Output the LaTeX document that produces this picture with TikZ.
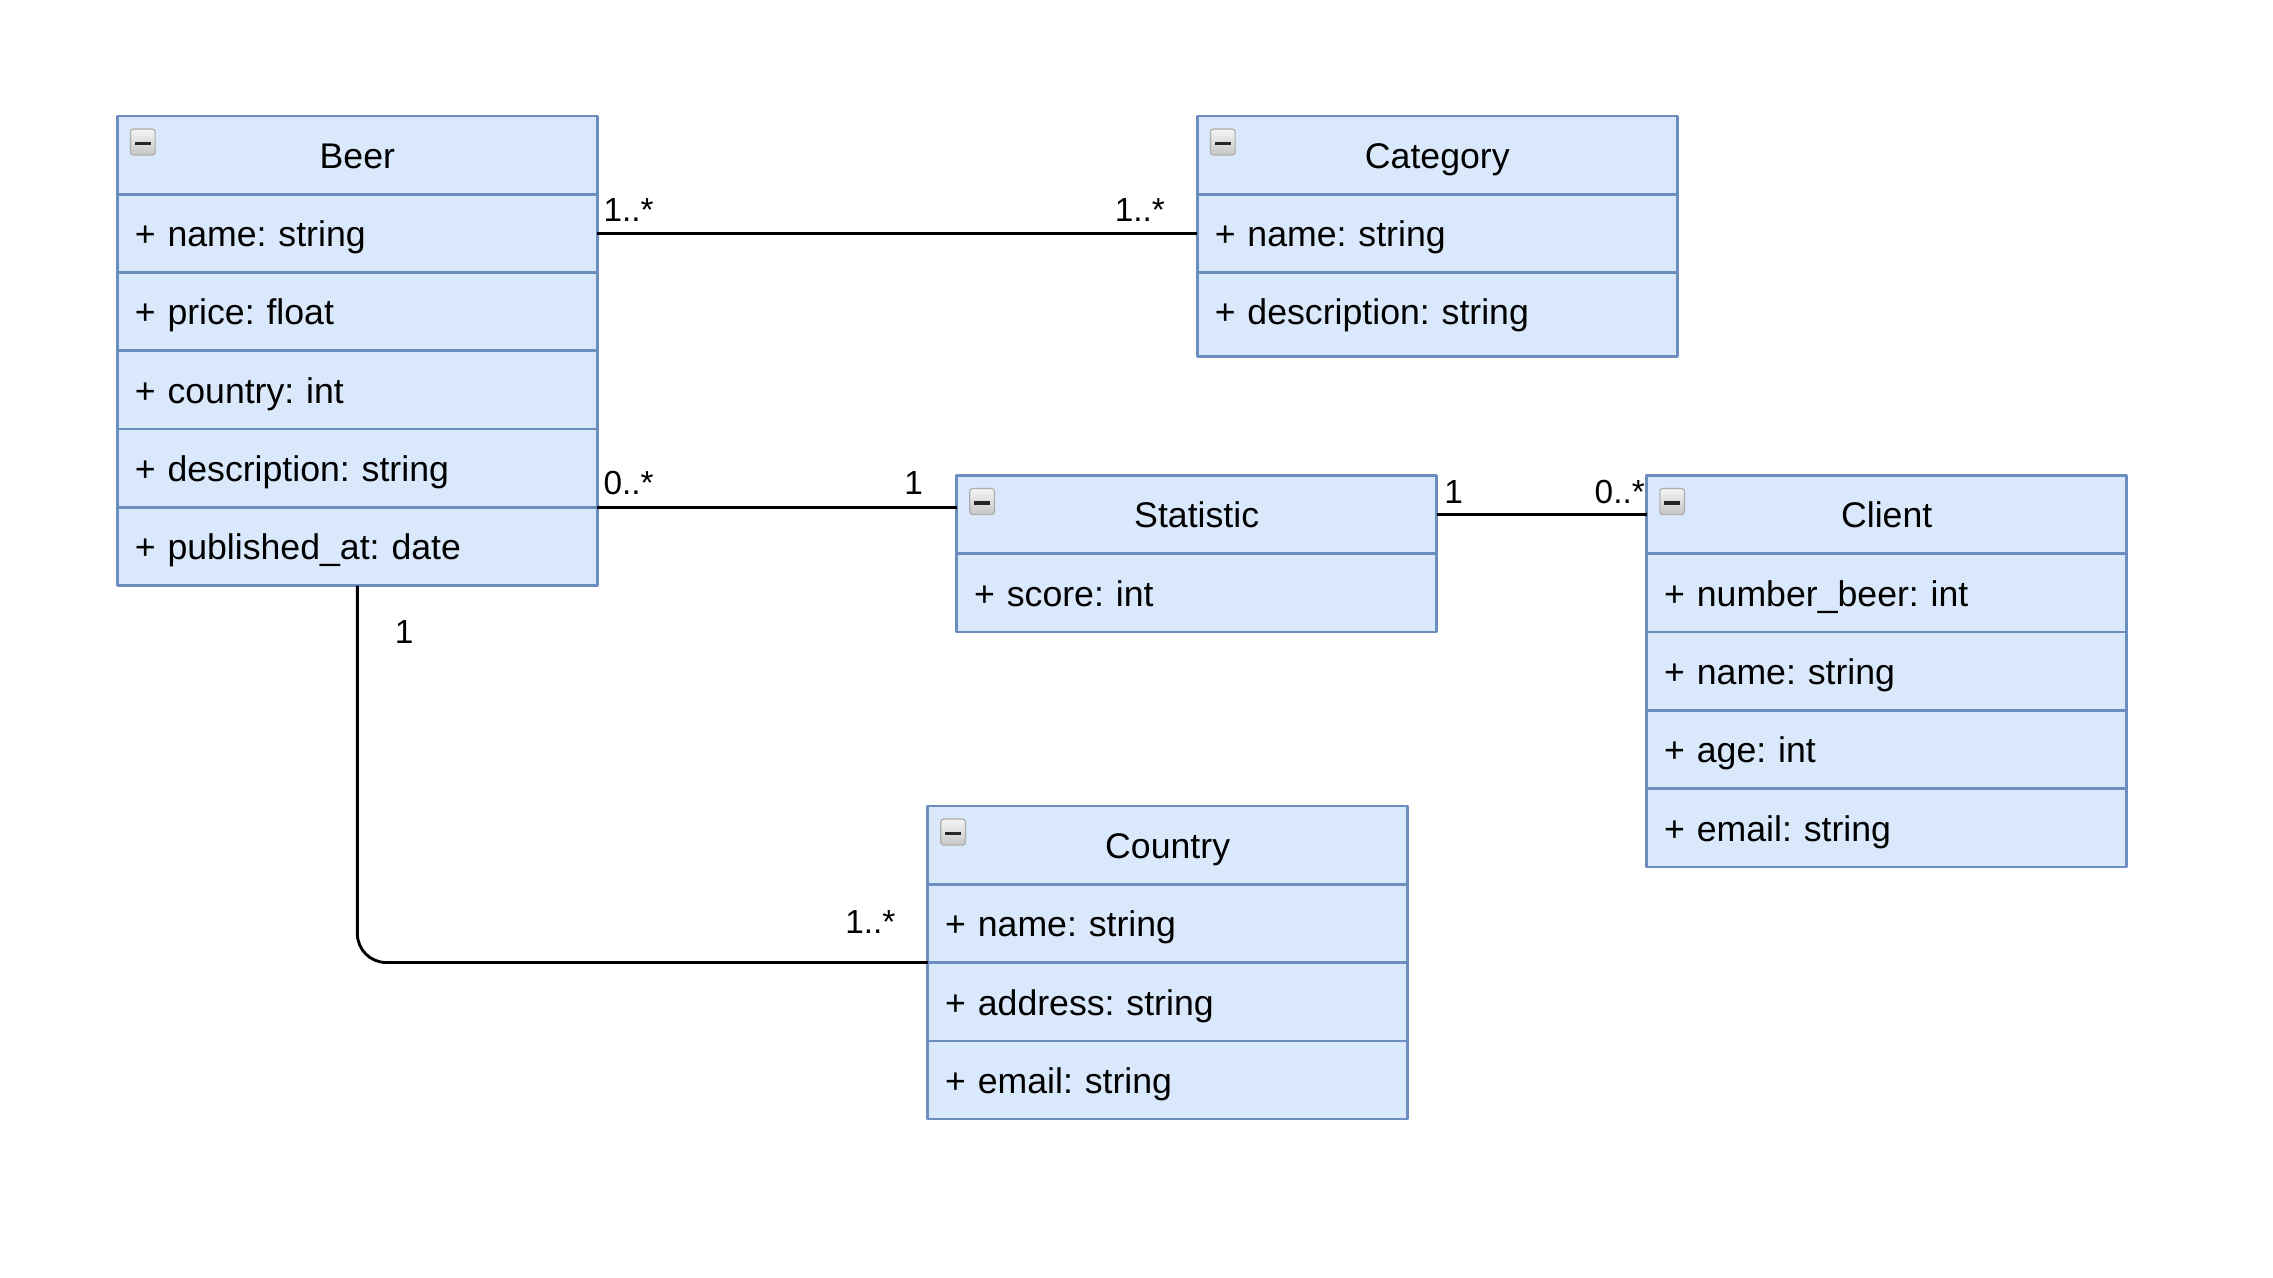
\documentclass[tikz,border=0pt]{standalone}
\usepackage{fontspec}
\setmainfont{Liberation Sans}
\frenchspacing
\definecolor{umlfill}{HTML}{DAE8FC}
\definecolor{umlline}{HTML}{6C8EBF}
\tikzset{
	box/.style={draw=umlline, fill=umlfill, line width=0.9pt, minimum width=165.5pt, minimum height=27pt, inner ysep=0pt, outer sep=0pt, text height=0.72em+2pt, text depth=0pt, font=\fontsize{12.3}{14}\selectfont},
	title/.style={box, inner xsep=0pt, text width=165.5pt, align=center},
	attr/.style={box, inner xsep=6pt, text width=153.5pt, align=left},
	mult/.style={inner sep=0pt, font=\fontsize{11.5}{13}\selectfont},
	assoc/.style={line width=1pt},
}
\begin{document}
\begin{tikzpicture}[x=0.5pt,y=-0.5pt,line join=round]
	\useasboundingbox (0,0) rectangle (1568,881);
	% classes
	\node[title, anchor=north west] (beer) at (81,80) {Beer};
	\foreach \a [count=\i] in {name: string, price: float, country: int, description: string, published\_at: date}{
		\node[attr, anchor=north west] (beer-\i) at (81,{80+54*\i}) {+ \a};
	};
	\node[title, anchor=north west] (cat) at (826,80) {Category};
	\node[attr, anchor=north west] (cat-1) at (826,134) {+ name: string};
	\node[attr, anchor=north west, minimum height=29pt, text depth=2pt] (cat-2) at (826,188) {+ description: string};
	\node[title, anchor=north west] (stat) at (660,328) {Statistic};
	\node[attr, anchor=north west] (stat-1) at (660,382) {+ score: int};
	\node[title, anchor=north west] (client) at (1136,328) {Client};
	\foreach \a [count=\i] in {number\_beer: int, name: string, age: int, email: string}{
		\node[attr, anchor=north west] (client-\i) at (1136,{328+54*\i}) {+ \a};
	};
	\node[title, anchor=north west] (country) at (640,556) {Country};
	\foreach \a [count=\i] in {name: string, address: string, email: string}{
		\node[attr, anchor=north west] (country-\i) at (640,{556+54*\i}) {+ \a};
	};
	% collapse icons
	\foreach \c in {beer,cat,stat,client,country}{
		\shade[top color=gray!8, bottom color=gray!45, draw=gray!65, rounded corners=1pt, line width=0.4pt] ([shift={(9,9)}]\c.north west) rectangle ++(17,18);
		\draw[line width=1.1pt, black!85] ([shift={(12,19)}]\c.north west) -- ++(11,0);
	};
	% associations
	\draw[assoc] (beer-1.east) -- (cat-1.west);
	\draw[assoc] (beer-4.south east) -- (beer-4.south east -| stat.west);
	\draw[assoc] (stat.east) -- (client.west);
	\draw[assoc, rounded corners=10pt] (beer-5.south) |- (country-1.south west);
	% multiplicities
	\node[mult, anchor=base west] (m-beer-cat) at (416,153) {1..*};
	\node[mult, anchor=base east] (m-cat-beer) at (804,153) {1..*};
	\node[mult, anchor=base west] (m-beer-stat) at (416,341) {0..*};
	\node[mult, anchor=base east] (m-stat-beer) at (637,341) {1};
	\node[mult, anchor=base west] (m-stat-client) at (996,347) {1};
	\node[mult, anchor=base east] (m-client-stat) at (1135,347) {0..*};
	\node[mult, anchor=base west] (m-beer-country) at (272,444) {1};
	\node[mult, anchor=base east] (m-country-beer) at (618,644) {1..*};
\end{tikzpicture}
\end{document}
